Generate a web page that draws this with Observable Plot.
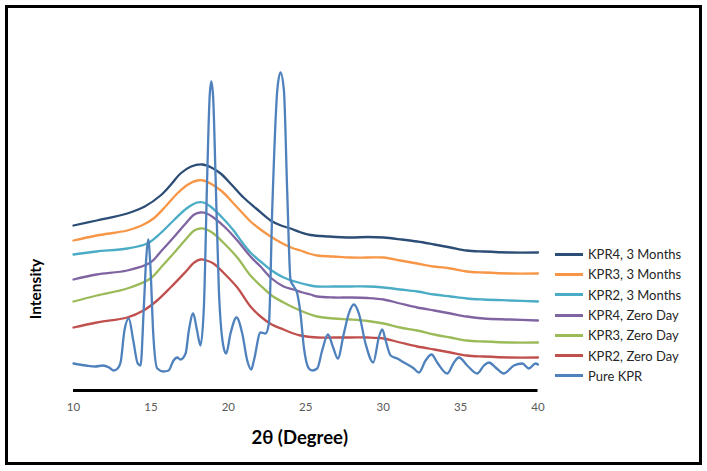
<!DOCTYPE html>
<html>
<head>
<meta charset="utf-8">
<script src="https://cdn.jsdelivr.net/npm/d3@7"></script>
<script src="https://cdn.jsdelivr.net/npm/@observablehq/plot@0.6"></script>
<style>
  html, body { margin: 0; padding: 0; background: #fff; }
  #wrap { position: relative; width: 707px; height: 471px; overflow: hidden; font-family: Lato, "Open Sans", sans-serif; }
  #chart { position: absolute; left: 0; top: 0; }
  #frame { position: absolute; left: 5px; top: 5px; width: 697px; height: 460px; border: 3px solid #000; box-sizing: border-box; pointer-events: none; }
  #legend { position: absolute; left: 555px; top: 244px; }
  .item { display: flex; align-items: center; height: 20.3px; font-size: 13px; color: #262626; white-space: nowrap; }
  .sw { display: inline-block; width: 28px; height: 3px; margin-right: 5px; }
  #ytitle { position: absolute; left: 35px; top: 289px; transform: translate(-50%, -50%) rotate(-90deg); font-size: 15.5px; font-weight: bold; color: #000; white-space: nowrap; }
</style>
</head>
<body>
<div id="wrap">
  <div id="chart"></div>
  <div id="ytitle">Intensity</div>
  <div id="legend"></div>
  <div id="frame"></div>
</div>
<script>
// Series names (legend order, top to bottom) and colours
const seriesNames = ["KPR4, 3 Months", "KPR3, 3 Months", "KPR2, 3 Months", "KPR4, Zero Day", "KPR3, Zero Day", "KPR2, Zero Day", "Pure KPR"];
const seriesColors = ["#2C4D75", "#F79646", "#4BACC6", "#8064A2", "#9BBB59", "#C0504D", "#4F81BD"];
const xTicks = [10, 15, 20, 25, 30, 35, 40];

// [2θ (degree), intensity (a.u., offset as plotted)]
const kpr4_3m = [[10,165],[11.5,170],[13.47,177],[14.6,184],[15.62,195],[16.3,206],[16.91,217],[17.6,224],[18.31,226],[18.9,223],[19.50,217],[20.2,206],[20.98,193],[21.8,182],[22.73,170],[23.4,165],[24.02,162],[24.7,158],[25.31,155.5],[26.5,154],[27.89,153],[29.0,153.5],[30.03,153],[31.2,151],[32.20,149],[33.3,146],[34.35,143],[35.4,140],[36.49,139],[38.2,138],[40,138]];
const kpr3_3m = [[10,150],[11.5,155],[13.47,160],[14.4,165],[15.17,172],[16.0,185],[16.70,197],[17.4,206],[17.99,210],[18.4,210],[18.85,207],[19.6,199],[20.34,187],[21.0,176],[21.43,169],[22.08,161],[22.73,154],[23.5,147],[24.21,142],[24.66,140],[25.2,137],[25.74,135],[26.8,134],[27.89,133],[29.0,133],[30.03,133],[31.1,130],[32.20,127],[33.3,124],[34.35,122],[35.4,119],[36.49,118],[38.2,117],[40,117]];
const kpr2_3m = [[10,136],[11.5,139],[13.47,142],[14.76,147],[15.6,157],[16.46,170],[17.3,182],[17.99,188],[18.4,188],[18.85,184],[19.6,173],[20.34,160],[20.9,148],[21.43,138],[22.08,129],[22.8,120],[23.57,113],[24.3,109],[25.31,105],[25.74,104],[26.8,104],[27.89,104],[29.0,104],[30.03,103],[31.1,101],[32.20,99],[33.3,96],[34.35,94],[35.4,92],[36.49,91],[38.2,90],[40,89]];
const kpr4_0d = [[10,111],[11.5,116],[13.47,120],[14.97,128],[15.7,140],[16.46,153],[17.3,168],[17.8,176],[18.20,178],[18.6,177],[19.04,173],[19.8,163],[20.58,150],[21.43,134],[22.08,124],[22.8,112],[23.57,104],[24.21,101],[24.8,98],[25.31,96],[25.74,94],[26.8,93],[27.89,93],[29.0,92.5],[30.03,91],[31.1,87],[32.20,83],[33.3,80],[34.35,77],[35.4,74],[36.49,72],[38.2,71],[40,70]];
const kpr3_0d = [[10,89],[11.5,95],[13.47,102],[14.97,112],[15.7,124],[16.46,137],[17.3,152],[17.8,160],[18.20,162],[18.6,161],[19.04,157],[19.8,146],[20.58,133],[21.43,115],[22.08,105],[22.8,95],[23.57,88],[24.21,83],[24.8,79],[25.31,76],[25.74,74],[26.8,72],[27.89,71],[29.0,69.5],[30.03,67],[31.1,63],[32.20,60],[33.3,56],[34.35,53],[35.4,50],[36.49,49],[38.2,48],[40,48]];
const kpr2_0d = [[10,63],[11.5,68],[13.47,73],[14.52,80],[15.4,90],[16.27,103],[17.2,118],[17.8,128],[18.20,131],[18.6,130],[19.04,127],[19.8,116],[20.58,103],[21.43,84],[22.08,74],[22.8,66],[23.57,61],[24.21,57],[24.66,55],[25.74,53],[26.8,53],[27.89,53],[29.0,53],[30.03,52],[31.1,48],[32.20,44],[33.3,41],[34.35,38],[35.4,35],[36.49,34],[38.2,33],[40,33]];
const pureKPR = [[10,27],[10.8,25],[11.4,24],[11.9,25],[12.3,23],[12.6,20],[12.85,22],[13.04,28],[13.29,60],[13.57,72],[13.86,50],[14.15,27],[14.33,25],[14.54,83],[14.70,133],[14.83,151],[14.97,123],[15.15,57],[15.41,22],[15.81,19],[16.14,20],[16.46,30],[16.70,33],[16.91,31],[17.24,37],[17.45,60],[17.73,77],[17.98,60],[18.20,45],[18.42,83],[18.64,217],[18.79,293],[18.90,309],[19.02,293],[19.17,217],[19.39,100],[19.71,42],[19.86,37],[20.14,57],[20.53,73],[20.90,57],[21.22,30],[21.48,21],[21.65,30],[22.08,58],[22.40,57],[22.62,67],[22.84,183],[23.16,300],[23.37,318],[23.59,300],[23.80,200],[24.02,110],[24.23,104],[24.45,97],[24.66,77],[24.88,43],[25.20,22],[25.42,20],[25.74,22],[26.06,40],[26.43,56],[26.77,43],[27.07,32],[27.46,57],[27.78,77],[28.11,86],[28.43,77],[28.86,47],[29.36,28],[29.72,53],[29.94,61],[30.16,50],[30.48,35],[30.91,32],[31.34,28],[31.98,22],[32.31,18],[32.74,30],[33.13,36],[33.49,28],[34.14,17],[34.57,28],[34.89,33],[35.43,25],[36.08,17],[36.51,25],[36.83,28],[37.26,23],[37.80,17],[38.44,25],[38.99,27],[39.41,22],[39.84,27],[40,26]];

const seriesData = [kpr4_3m, kpr3_3m, kpr2_3m, kpr4_0d, kpr3_0d, kpr2_0d, pureKPR];
const rows = seriesData.map((arr, i) => arr.map(([deg, val]) => ({series: seriesNames[i], deg, val})));

const marks = [
  Plot.ruleY([0], {stroke: "#000", strokeWidth: 3}),
  Plot.axisX({ticks: xTicks, tickSize: 0, tickPadding: 12, fontSize: 11.5, fill: "#595959", label: null}),
  ...rows.map((r, i) => Plot.line(r, {x: "deg", y: "val", stroke: "series", strokeWidth: 2.3,
      curve: i === rows.length - 1 ? "monotone-x" : "catmull-rom"})),
  Plot.text(["2θ (Degree)"], {text: d => d, frameAnchor: "bottom", dy: 53, dx: -6, fontSize: 18.5, fontWeight: "bold", fill: "#000"})
];

const chart = Plot.plot({
  width: 707,
  height: 471,
  marginLeft: 73,
  marginRight: 169.5,
  marginTop: 40,
  marginBottom: 81,
  x: {domain: [10, 40]},
  y: {domain: [0, 350], axis: null},
  color: {domain: seriesNames, range: seriesColors},
  style: {fontFamily: "Lato, 'Open Sans', sans-serif", background: "#fff", color: "#595959"},
  marks
});
document.getElementById("chart").appendChild(chart);

const legend = document.getElementById("legend");
seriesNames.forEach((name, i) => {
  const item = document.createElement("div");
  item.className = "item";
  const sw = document.createElement("span");
  sw.className = "sw";
  sw.style.background = seriesColors[i];
  const t = document.createElement("span");
  t.textContent = name;
  item.appendChild(sw);
  item.appendChild(t);
  legend.appendChild(item);
});
</script>
</body>
</html>
